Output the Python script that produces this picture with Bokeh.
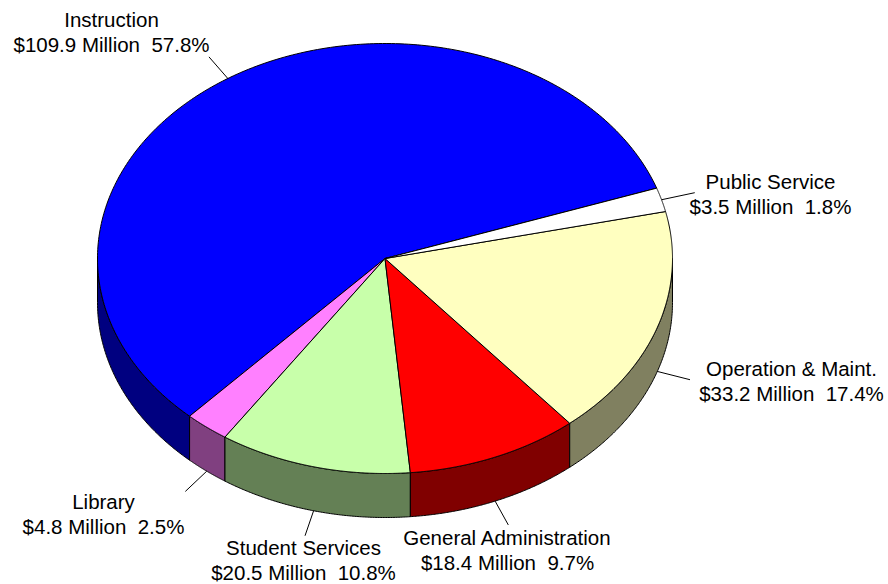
import numpy as np
from bokeh.plotting import figure
from bokeh.models import Range1d
from bokeh.core.properties import value
from bokeh.embed import file_html
from bokeh.resources import INLINE

categories = ["Instruction", "Library", "Student Services", "General Administration", "Operation & Maint.", "Public Service"]
millions = ["$109.9 Million", "$4.8 Million", "$20.5 Million", "$18.4 Million", "$33.2 Million", "$3.5 Million"]
percents = [57.8, 2.5, 10.8, 9.7, 17.4, 1.8]
top_colors = ["#0000FF", "#FF80FF", "#C8FFAA", "#FF0000", "#FFFFC0", "#FFFFFF"]
side_colors = ["#000080", "#804080", "#648055", "#800000", "#808060", "#808080"]
label_cx = [111, 103, 303, 507, 791, 770]
label_y = [19, 501, 547, 537, 368, 181]

CX, CY, RX, RY, DEPTH = 384.5, 258.0, 287.5, 215.0, 44.0
START = 19.1
LINE_H = 24.5
EXT = 1.12

p = figure(width=888, height=584, output_backend="svg", toolbar_location=None,
           x_range=Range1d(0, 888), y_range=Range1d(584, 0),
           min_border=0, outline_line_color=None, border_fill_color="white")
p.axis.visible = False
p.grid.visible = False

def ex(a, k=1.0):
    return CX + k * RX * np.cos(np.radians(a))
def ey(a, k=1.0):
    return CY - k * RY * np.sin(np.radians(a))

total = sum(percents)
angles = START + np.concatenate([[0], np.cumsum(percents)]) * 360.0 / total

# sides (visible lower half only)
for i in range(len(percents)):
    for lo, hi in [(angles[i], angles[i + 1]), (angles[i] - 360, angles[i + 1] - 360)]:
        a0, a1 = max(lo, 180.0), min(hi, 360.0)
        if a1 > a0:
            t = np.linspace(a0, a1, 120)
            xs = np.concatenate([ex(t), ex(t[::-1])])
            ys = np.concatenate([ey(t), ey(t[::-1]) + DEPTH])
            p.patch(xs, ys, fill_color=side_colors[i], line_color="black", line_width=1)

# tops
for i in range(len(percents)):
    t = np.linspace(angles[i], angles[i + 1], 240)
    xs = np.concatenate([[CX], ex(t)])
    ys = np.concatenate([[CY], ey(t)])
    p.patch(xs, ys, fill_color=top_colors[i], line_color="black", line_width=1)

# leaders and labels
for i in range(len(percents)):
    m = (angles[i] + angles[i + 1]) / 2
    d = DEPTH if np.sin(np.radians(m)) < 0 else 0.0
    p.line([ex(m), ex(m, EXT)], [ey(m) + d, ey(m, EXT) + d], line_color="black", line_width=1)
    for j, s in enumerate([categories[i], f"{millions[i]}\u00a0\u00a0{percents[i]}%"]):
        p.text([label_cx[i]], [label_y[i] + j * LINE_H], text=[s], text_font=value("Liberation Sans"),
               text_font_size="20.5px", text_color="black", text_align="center", text_baseline="middle")

open("out.html", "w").write(file_html(p, INLINE))
